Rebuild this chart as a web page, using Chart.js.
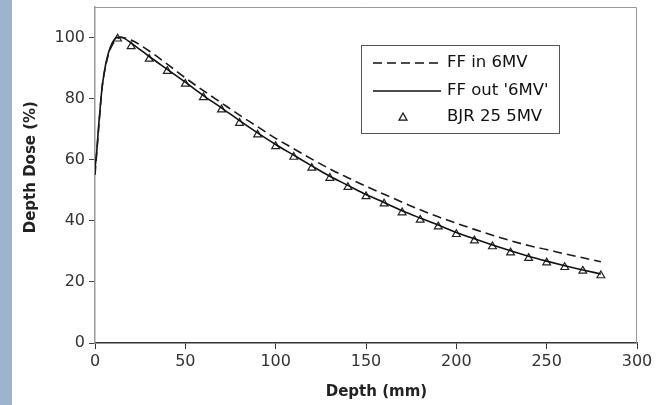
<!DOCTYPE html>
<html>
<head>
<meta charset="utf-8">
<script src="https://cdn.jsdelivr.net/npm/chart.js@4"></script>
<style>
  body { margin: 0; background: #fff; }
  #wrap { position: absolute; left: 0; top: 0; width: 664px; height: 405px; }
  #strip { position: absolute; left: 0; top: 0; width: 12px; height: 405px; background: #9db4cc; }
  #c { position: absolute; left: 12px; top: 0; }
</style>
</head>
<body>
<div id="wrap">
  <div id="strip"></div>
  <canvas id="c" width="652" height="405"></canvas>
</div>
<script>
// depth dose curves
const ffOutDepth = [0,1,2,3,4,5,6,7,8,9,10,11,12,14,16,20,30,40,50,60,70,80,90,100,110,120,130,140,150,160,170,180,190,200,210,220,230,240,250,260,270,280]
const ffOutDose = [57,63,71,78,84,88,91.5,94,96,97.5,98.7,99.5,100,100.2,99.8,98.2,93.8,89.6,85.4,81.0,77.0,72.8,68.8,65.0,61.5,58.0,54.6,51.6,48.6,46.0,43.3,40.9,38.6,36.2,34.1,32.1,30.2,28.4,26.8,25.3,23.9,22.6]

const ffInDepth = [0,2,4,6,8,10,12,15,20,30,40,50,60,70,80,90,100,110,120,130,140,150,160,170,180,190,200,210,220,230,240,250,260,270,280]
const ffInDose = [55,70,84,91,95.5,98,99.5,100,99.2,95.6,91.3,86.8,82.6,78.6,74.6,70.8,67.0,63.6,60.2,57.0,54.1,51.3,48.7,46.1,43.6,41.3,39.2,37.2,35.3,33.5,31.9,30.6,29.2,27.9,26.6]

const bjrDepth = [12.5,20,30,40,50,60,70,80,90,100,110,120,130,140,150,160,170,180,190,200,210,220,230,240,250,260,270,280]
const bjrDose = [99.6,97.1,93.0,89.0,84.8,80.4,76.4,72.0,68.2,64.4,60.9,57.3,54.0,51.0,48.0,45.6,42.7,40.3,38.1,35.6,33.5,31.6,29.6,27.8,26.3,24.8,23.6,22.1]

const seriesNames = ["FF in 6MV", "FF out '6MV'", "BJR 25 5MV"]
const yTicks = [0,20,40,60,80,100]
const xTicks = [0,50,100,150,200,250,300]

const toXY = (xs, ys) => xs.map((x, i) => ({x: x, y: ys[i]}))

// box round the plot + legend inside it
const framePlugin = {
  id: 'frame',
  afterDatasetsDraw(chart) {
    const ctx = chart.ctx
    const a = chart.chartArea
    ctx.save()
    ctx.strokeStyle = '#9a9a9a'
    ctx.lineWidth = 1
    ctx.beginPath()
    ctx.moveTo(a.left, a.top + 0.5)
    ctx.lineTo(a.right - 0.5, a.top + 0.5)
    ctx.lineTo(a.right - 0.5, a.bottom)
    ctx.stroke()

    // legend
    const bx = 349, by = 45, bw = 198, bh = 88
    ctx.strokeStyle = '#555'
    ctx.strokeRect(bx + 0.5, by + 0.5, bw, bh)
    ctx.font = '16.5px "DejaVu Sans"'
    ctx.fillStyle = '#111'
    ctx.textBaseline = 'middle'
    const rows = [63, 91, 117]
    const sets = chart.data.datasets
    ctx.strokeStyle = '#111'
    ctx.lineWidth = 1.6
    ctx.setLineDash(sets[0].borderDash)
    ctx.beginPath(); ctx.moveTo(bx + 12, rows[0]); ctx.lineTo(bx + 80, rows[0]); ctx.stroke()
    ctx.setLineDash([])
    ctx.beginPath(); ctx.moveTo(bx + 12, rows[1]); ctx.lineTo(bx + 80, rows[1]); ctx.stroke()
    ctx.lineWidth = 1.2
    const tx = bx + 42, ty = rows[2], r = 4
    ctx.beginPath()
    ctx.moveTo(tx, ty - r); ctx.lineTo(tx + r, ty + r * 0.8); ctx.lineTo(tx - r, ty + r * 0.8); ctx.closePath()
    ctx.stroke()
    seriesNames.forEach((name, i) => ctx.fillText(name, bx + 86, rows[i]))
    ctx.restore()
  }
}

new Chart(document.getElementById('c'), {
  type: 'scatter',
  data: {
    datasets: [
      {
        label: seriesNames[0],
        data: toXY(ffInDepth, ffInDose),
        showLine: true,
        borderColor: '#1a1a1a',
        borderWidth: 1.6,
        borderDash: [9, 5],
        pointRadius: 0,
        cubicInterpolationMode: 'monotone'
      },
      {
        label: seriesNames[1],
        data: toXY(ffOutDepth, ffOutDose),
        showLine: true,
        borderColor: '#111',
        borderWidth: 1.6,
        pointRadius: 0,
        cubicInterpolationMode: 'monotone'
      },
      {
        label: seriesNames[2],
        data: toXY(bjrDepth, bjrDose),
        showLine: false,
        pointStyle: 'triangle',
        pointRadius: 4.5,
        pointBorderWidth: 1.2,
        pointBorderColor: '#222',
        pointBackgroundColor: 'rgba(255,255,255,0.6)'
      }
    ]
  },
  options: {
    responsive: false,
    animation: false,
    layout: { padding: { left: 0, right: 27, top: 7, bottom: 0 } },
    plugins: { legend: { display: false }, tooltip: { enabled: false } },
    scales: {
      x: {
        type: 'linear',
        min: 0, max: 300,
        afterBuildTicks: (s) => { s.ticks = xTicks.map(v => ({value: v})) },
        afterFit: (s) => { s.height = 62 },
        grid: { drawOnChartArea: false, tickLength: 6, color: '#333' },
        border: { color: '#333', width: 1.5 },
        ticks: { color: '#333', padding: 3, font: { family: 'DejaVu Sans', size: 16 } },
        title: { display: true, text: '    Depth (mm)', color: '#222', padding: { top: 2 }, font: { family: 'DejaVu Sans', size: 15, weight: 'bold' } }
      },
      y: {
        type: 'linear',
        min: 0, max: 110,
        afterBuildTicks: (s) => { s.ticks = yTicks.map(v => ({value: v})) },
        afterFit: (s) => { s.width = 83; s.paddingTop = 0; s.paddingBottom = 0 },
        grid: { drawOnChartArea: false, tickLength: 6, color: '#444' },
        border: { color: '#9a9a9a', width: 1.5 },
        ticks: { color: '#333', padding: 4, font: { family: 'DejaVu Sans', size: 16 } },
        title: { display: true, text: '   Depth Dose (%)', color: '#222', padding: { top: 10, bottom: 4 }, font: { family: 'DejaVu Sans', size: 15, weight: 'bold' } }
      }
    }
  },
  plugins: [framePlugin]
})
</script>
</body>
</html>
